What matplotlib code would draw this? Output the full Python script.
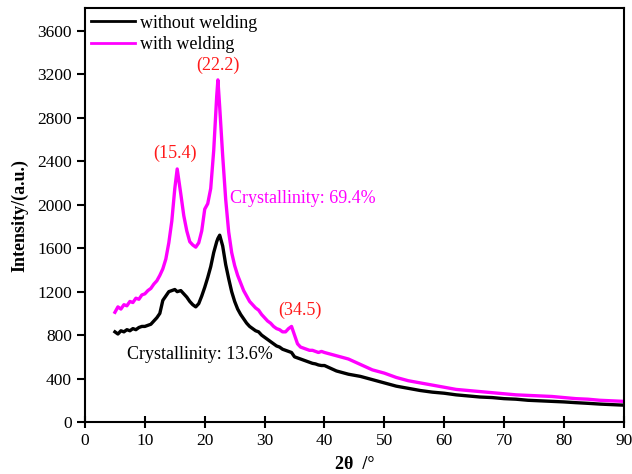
import matplotlib
matplotlib.use("Agg")
import matplotlib.pyplot as plt

plt.rcParams['font.family'] = ['Liberation Serif', 'DejaVu Serif']

# 2theta grid (deg)
two_theta = [5.0, 5.5, 6.0, 6.5, 7.0, 7.5, 8.0, 8.5, 9.0, 9.5,
             10.0, 10.5, 11.0, 11.5, 12.0, 12.5, 13.0, 13.5, 14.0, 14.5,
             15.0, 15.4, 16.0, 16.5, 17.0, 17.5, 18.0, 18.5, 19.0, 19.5,
             20.0, 20.5, 21.0, 21.5, 22.0, 22.2, 22.5, 23.0, 23.5, 24.0,
             24.5, 25.0, 25.5, 26.0, 26.5, 27.0, 27.5, 28.0, 28.5, 29.0,
             29.5, 30.0, 30.5, 31.0, 31.5, 32.0, 32.5, 33.0, 33.5, 34.0,
             34.5, 35.0, 35.5, 36.0, 36.5, 37.0, 37.5, 38.0, 38.5, 39.0,
             39.5, 40.0, 42, 44, 46, 48, 50, 52, 54, 56,
             58, 60, 62, 64, 66, 68, 70, 72, 74, 76,
             78, 80, 82, 84, 86, 88, 90]

with_welding = [1010, 1060, 1040, 1080, 1070, 1110, 1100, 1140, 1130, 1170,
                1180, 1210, 1230, 1270, 1300, 1350, 1410, 1500, 1650, 1850,
                2150, 2330, 2100, 1900, 1760, 1660, 1630, 1610, 1650, 1760,
                1960, 2010, 2150, 2500, 3000, 3150, 2900, 2450, 2050, 1750,
                1560, 1440, 1350, 1280, 1210, 1160, 1110, 1080, 1050, 1030,
                990, 960, 930, 910, 880, 860, 850, 830, 830, 860,
                880, 800, 720, 690, 680, 670, 660, 660, 650, 640,
                650, 640, 610, 580, 530, 480, 450, 410, 380, 360,
                340, 320, 300, 290, 280, 270, 260, 250, 245, 240,
                235, 225, 215, 210, 200, 195, 190]

without_welding = [830, 810, 840, 830, 850, 840, 860, 850, 870, 880,
                   880, 890, 900, 930, 960, 1000, 1120, 1160, 1200, 1210,
                   1220, 1200, 1210, 1180, 1150, 1110, 1080, 1060, 1090, 1160,
                   1240, 1330, 1430, 1560, 1660, 1690, 1720, 1620, 1450, 1320,
                   1200, 1110, 1040, 990, 950, 910, 880, 860, 840, 830,
                   800, 780, 760, 740, 720, 700, 690, 670, 660, 650,
                   640, 600, 590, 580, 570, 560, 550, 540, 535, 525,
                   520, 520, 470, 440, 420, 390, 360, 330, 310, 290,
                   275, 265, 250, 240, 230, 225, 215, 210, 200, 195,
                   190, 185, 178, 172, 165, 160, 155]

peak_labels = ['(15.4)', '(22.2)', '(34.5)']
peak_pos = [(15.0, 2390), (22.2, 3200), (35.9, 950)]

fig = plt.figure(figsize=(6.32, 4.74), dpi=100)
ax = fig.add_axes([0.1345, 0.1097, 0.8525, 0.873])

ax.plot(two_theta, without_welding, color='black', lw=2.4, label='without welding')
ax.plot(two_theta, with_welding, color='#ff00ff', lw=2.4, label='with welding')

for lab, (px, py) in zip(peak_labels, peak_pos):
    ax.text(px, py, lab, color='#ff1a1a', fontsize=13, ha='center', va='bottom')

ax.text(24.2, 2060, 'Crystallinity: 69.4%', color='#ff00ff', fontsize=13, va='center')
ax.text(7.0, 620, 'Crystallinity: 13.6%', color='black', fontsize=13, va='center')

ax.set_xlim(0, 90)
ax.set_ylim(0, 3810)
ax.set_xticks(range(0, 91, 10))
ax.set_yticks(range(0, 3601, 400))
ax.tick_params(axis='both', labelsize=12.5, width=1.5, length=6)
ax.tick_params(axis='x', direction='inout', length=9)
for sp in ax.spines.values():
    sp.set_linewidth(1.5)

ax.set_xlabel('2θ  /°', fontsize=13, fontweight='bold', labelpad=5)
ax.set_ylabel('Intensity/(a.u.)', fontsize=13, fontweight='bold', labelpad=6)

leg = ax.legend(loc='upper left', frameon=False, fontsize=13, handlelength=2.4,
                borderaxespad=0.15, borderpad=0.2, labelspacing=0.25,
                handletextpad=0.3)
for line in leg.get_lines():
    line.set_linewidth(2.0)

fig.savefig('out.png', dpi=100)
